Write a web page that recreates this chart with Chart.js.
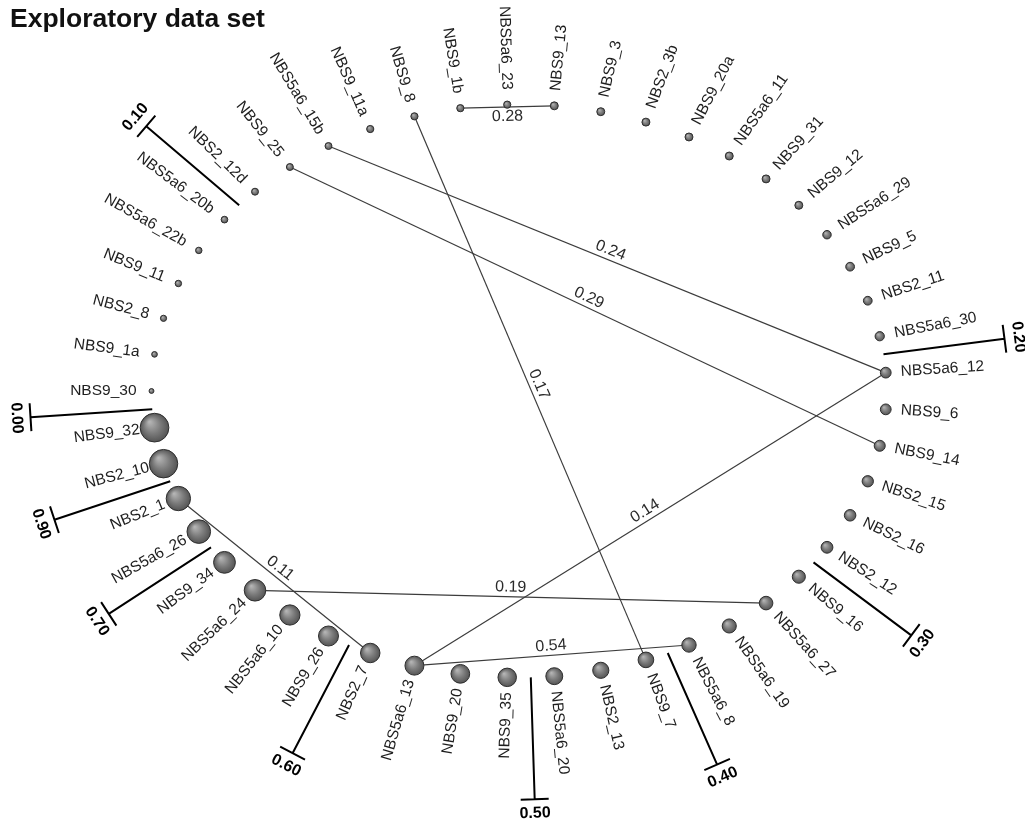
<!DOCTYPE html>
<html>
<head>
<meta charset="utf-8">
<title>Exploratory data set</title>
<script src="https://cdn.jsdelivr.net/npm/chart.js@4.4.1/dist/chart.umd.min.js"></script>
<style>
  body { margin: 0; background: #fff; }
  #wrap { position: relative; width: 1025px; height: 826px; }
  #title { position: absolute; left: 10px; top: 3px; font: bold 26.5px "Liberation Sans", Arial, sans-serif; color: #111; }
</style>
</head>
<body>
<div id="wrap">
  <canvas id="netChart" width="1025" height="826"></canvas>
  <div id="title">Exploratory data set</div>
</div>
<script>
// node names, sorted by value (starting at the 0.00 tick, going clockwise)
const nodeNames = [
  'NBS9_30', 'NBS9_1a', 'NBS2_8', 'NBS9_11', 'NBS5a6_22b', 'NBS5a6_20b',
  'NBS2_12d', 'NBS9_25', 'NBS5a6_15b', 'NBS9_11a', 'NBS9_8', 'NBS9_1b', 'NBS5a6_23',
  'NBS9_13', 'NBS9_3', 'NBS2_3b', 'NBS9_20a', 'NBS5a6_11', 'NBS9_31', 'NBS9_12',
  'NBS5a6_29', 'NBS9_5', 'NBS2_11', 'NBS5a6_30',
  'NBS5a6_12', 'NBS9_6', 'NBS9_14', 'NBS2_15', 'NBS2_16', 'NBS2_12',
  'NBS9_16', 'NBS5a6_27', 'NBS5a6_19', 'NBS5a6_8',
  'NBS9_7', 'NBS2_13', 'NBS5a6_20',
  'NBS9_35', 'NBS9_20', 'NBS5a6_13', 'NBS2_7',
  'NBS9_26', 'NBS5a6_10', 'NBS5a6_24', 'NBS9_34',
  'NBS5a6_26', 'NBS2_1',
  'NBS2_10', 'NBS9_32'
];
// node values (estimated from node size and the ring ticks)
const nodeValues = [
  0.02, 0.05, 0.07, 0.08, 0.08, 0.09,
  0.10, 0.10, 0.10, 0.11, 0.11, 0.11, 0.11,
  0.14, 0.14, 0.14, 0.14, 0.14, 0.14, 0.14,
  0.16, 0.17, 0.17, 0.19,
  0.25, 0.25, 0.26, 0.27, 0.28, 0.29,
  0.34, 0.36, 0.38, 0.39,
  0.44, 0.46, 0.49,
  0.55, 0.56, 0.57, 0.59,
  0.61, 0.62, 0.67, 0.68,
  0.75, 0.78,
  0.94, 0.95
];

// ring ticks
const tickValues = [0.0, 0.1, 0.2, 0.3, 0.4, 0.5, 0.6, 0.7, 0.8, 0.9];
const tickLabels = ['0.00', '0.10', '0.20', '0.30', '0.40', '0.50', '0.60', '0.70', '0.80', '0.90'];

// links
const edgeFrom    = ['NBS9_13', 'NBS5a6_15b', 'NBS9_25', 'NBS9_8', 'NBS5a6_13', 'NBS5a6_24', 'NBS2_1', 'NBS5a6_13'];
const edgeTo      = ['NBS9_1b', 'NBS5a6_12', 'NBS9_14', 'NBS9_7', 'NBS5a6_12', 'NBS5a6_27', 'NBS2_7', 'NBS5a6_8'];
const edgeWeights = [0.28, 0.24, 0.29, 0.17, 0.14, 0.19, 0.11, 0.54];


// 레이아웃 (ring centre / radii in px)
const W = 1025, H = 826;
const CX = 519, CY = 391, RX = 367.5, RY = 286.5;
const STEP = 360 / nodeNames.length;
const rad = d => d * Math.PI / 180;

// angle on the ring (screen, y down) for a rank position
function ringAngle(pos) {
  return 180 + pos * STEP;
}
function ringPoint(pos) {
  const t = rad(ringAngle(pos));
  return { x: Math.cos(t), y: -Math.sin(t) };
}
function nodeRadius(v) {
  return 2.2 + 12.8 * v;
}

const nodeData = nodeNames.map((n, i) => {
  const p = ringPoint(i);
  return { x: p.x, y: p.y, r: nodeRadius(nodeValues[i]) };
});

const edgeSets = edgeFrom.map((a, k) => {
  const i = nodeNames.indexOf(a);
  const j = nodeNames.indexOf(edgeTo[k]);
  return {
    type: 'scatter',
    showLine: true,
    data: [ringPoint(i), ringPoint(j)],
    borderColor: '#3c3c3c',
    borderWidth: 1.2,
    pointRadius: 0,
    order: 2
  };
});

// 구슬 모양 노드
function ballFill(ctx) {
  if (ctx.type !== 'data') return '#777';
  const chart = ctx.chart;
  const xs = chart.scales.x, ys = chart.scales.y;
  if (!xs || !ys || !xs.width) return '#777';
  const px = xs.getPixelForValue(ctx.raw.x);
  const py = ys.getPixelForValue(ctx.raw.y);
  const r = ctx.raw.r;
  const g = chart.ctx.createRadialGradient(px - r * 0.35, py - r * 0.4, r * 0.05, px, py, r);
  g.addColorStop(0, '#b4b4b4');
  g.addColorStop(0.55, '#7c7c7c');
  g.addColorStop(1, '#545454');
  return g;
}

function normDeg(a) {
  while (a > 90) a -= 180;
  while (a <= -90) a += 180;
  return a;
}

const ringPlugin = {
  id: 'ringPlugin',
  beforeDatasetsDraw(chart) {
    const c = chart.ctx;
    const xs = chart.scales.x, ys = chart.scales.y;
    c.save();
    c.strokeStyle = '#000';
    c.lineWidth = 2;
    c.fillStyle = '#000';
    c.font = 'bold 16px "Liberation Sans", Arial, sans-serif';
    c.textAlign = 'center';
    c.textBaseline = 'middle';
    const counts = tickValues.map(tv => nodeValues.filter(v => v < tv).length);
    tickValues.forEach((tv, k) => {
      // two ticks in the same gap: only the last one is drawn
      if (k < tickValues.length - 1 && counts[k + 1] === counts[k]) return;
      const pos = counts[k] - 0.5;
      const p = ringPoint(pos);
      const sx = xs.getPixelForValue(p.x), sy = ys.getPixelForValue(p.y);
      const t = rad(ringAngle(pos));
      const dx = Math.cos(t), dy = Math.sin(t);
      const ex = sx + 122 * dx, ey = sy + 122 * dy;
      c.beginPath();
      c.moveTo(sx, sy);
      c.lineTo(ex, ey);
      c.moveTo(ex - 14 * dy, ey + 14 * dx);
      c.lineTo(ex + 14 * dy, ey - 14 * dx);
      c.stroke();
      c.save();
      c.translate(ex + 14 * dx, ey + 14 * dy);
      c.rotate(rad(normDeg(ringAngle(pos) - 90)));
      c.fillText(tickLabels[k], 0, 0);
      c.restore();
    });
    c.restore();
  },
  afterDatasetsDraw(chart) {
    const c = chart.ctx;
    const xs = chart.scales.x, ys = chart.scales.y;
    c.save();
    // node labels
    c.fillStyle = '#1e1e1e';
    c.font = '15.5px "Liberation Sans", Arial, sans-serif';
    c.textBaseline = 'middle';
    nodeNames.forEach((name, i) => {
      const p = ringPoint(i);
      const px = xs.getPixelForValue(p.x), py = ys.getPixelForValue(p.y);
      let deg = ((ringAngle(i) % 360) + 360) % 360;
      const t = rad(deg);
      c.save();
      c.translate(px + 15 * Math.cos(t), py + 15 * Math.sin(t));
      if (Math.cos(t) >= 0) {
        c.rotate(t);
        c.textAlign = 'left';
      } else {
        c.rotate(t - Math.PI);
        c.textAlign = 'right';
      }
      c.fillText(name, 0, 0);
      c.restore();
    });
    // link labels
    c.fillStyle = '#2a2a2a';
    c.font = '16px "Liberation Sans", Arial, sans-serif';
    c.textAlign = 'center';
    edgeFrom.forEach((a, k) => {
      const p1 = ringPoint(nodeNames.indexOf(a));
      const p2 = ringPoint(nodeNames.indexOf(edgeTo[k]));
      const x1 = xs.getPixelForValue(p1.x), y1 = ys.getPixelForValue(p1.y);
      const x2 = xs.getPixelForValue(p2.x), y2 = ys.getPixelForValue(p2.y);
      const len = Math.hypot(x2 - x1, y2 - y1);
      const dx = (x2 - x1) / len, dy = (y2 - y1) / len;
      const mx = (x1 + x2) / 2 + 9.5 * dy, my = (y1 + y2) / 2 - 9.5 * dx;
      c.save();
      c.translate(mx, my);
      c.rotate(rad(normDeg(Math.atan2(dy, dx) * 180 / Math.PI)));
      c.fillText(edgeWeights[k].toFixed(2), 0, 0);
      c.restore();
    });
    c.restore();
  }
};

new Chart(document.getElementById('netChart').getContext('2d'), {
  type: 'scatter',
  data: {
    datasets: [
      {
        type: 'bubble',
        data: nodeData,
        backgroundColor: ballFill,
        borderColor: '#2e2e2e',
        borderWidth: 1,
        order: 1
      },
      ...edgeSets
    ]
  },
  options: {
    responsive: false,
    animation: false,
    events: [],
    layout: { padding: 0, autoPadding: false },
    plugins: { legend: { display: false }, tooltip: { enabled: false } },
    scales: {
      x: { type: 'linear', display: false, min: -CX / RX, max: (W - CX) / RX },
      y: { type: 'linear', display: false, min: -(H - CY) / RY, max: CY / RY }
    }
  },
  plugins: [ringPlugin]
});
</script>
</body>
</html>
